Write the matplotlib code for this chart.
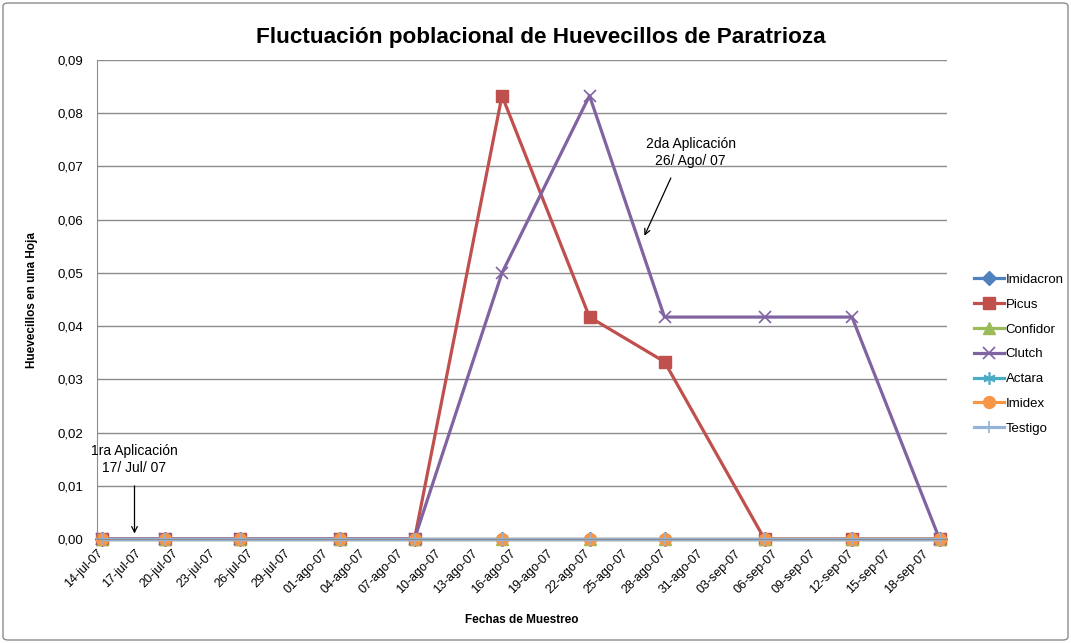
import matplotlib as mpl
mpl.use('Agg')
import matplotlib.pyplot as plt
import matplotlib.dates as mdates
import matplotlib.ticker as mticker
import matplotlib.patches as mpatches
import datetime as dt

plt.rcParams['font.family'] = ['Liberation Sans', 'DejaVu Sans']

""" datos del muestreo """
fechas = ['14-07-2007', '19-07-2007', '25-07-2007', '02-08-2007', '08-08-2007',
          '15-08-2007', '22-08-2007', '28-08-2007', '05-09-2007', '12-09-2007',
          '19-09-2007']
imidacron = [0, 0, 0, 0, 0, 0, 0, 0, 0, 0, 0]
picus = [0, 0, 0, 0, 0, 0.0833, 0.0417, 0.0333, 0, 0, 0]
confidor = [0, 0, 0, 0, 0, 0, 0, 0, 0, 0, 0]
clutch = [0, 0, 0, 0, 0, 0.05, 0.0833, 0.0417, 0.0417, 0.0417, 0]
actara = [0, 0, 0, 0, 0, 0, 0, 0, 0, 0, 0]
imidex = [0, 0, 0, 0, 0, 0, 0, 0, 0, 0, 0]
testigo = [0, 0, 0, 0, 0, 0, 0, 0, 0, 0, 0]

meses = {7: 'jul', 8: 'ago', 9: 'sep'}
inicio = dt.date(2007, 7, 14)

series = [('Imidacron', imidacron, '#4F81BD', 'D', 7),
          ('Picus', picus, '#C0504D', 's', 8),
          ('Confidor', confidor, '#9BBB59', '^', 8),
          ('Clutch', clutch, '#8064A2', 'x', 8),
          ('Actara', actara, '#4BACC6', (6, 2, 0), 9),
          ('Imidex', imidex, '#F79646', 'o', 8.5),
          ('Testigo', testigo, '#95B3D7', '+', 9)]

dias = [dt.datetime.strptime(f, '%d-%m-%Y') for f in fechas]
x = mdates.date2num(dias) + 0.4

fig = plt.figure(figsize=(10.71, 6.43), dpi=100)
ax = fig.add_axes([97/1071, 1-539/643, 850/1071, 479/643])

for nombre, vals, col, mk, ms in series:
    mew = 1.2 if mk in ('x', '+') or isinstance(mk, tuple) else 1
    ax.plot(x, vals, color=col, lw=2.3, marker=mk, markersize=ms,
            markeredgewidth=mew, label=nombre, clip_on=False)

ax.set_ylim(0, 0.09)
ax.yaxis.set_major_locator(mticker.MultipleLocator(0.01))
ax.yaxis.set_major_formatter(mticker.FuncFormatter(lambda v, p: ('%.2f' % v).replace('.', ',')))
ax.grid(axis='y', color='#8c8c8c', lw=1)
ax.set_axisbelow(True)

ticks = [mdates.date2num(inicio + dt.timedelta(days=3*k)) for k in range(23)]
ax.set_xticks(ticks)
ax.xaxis.set_major_formatter(mticker.FuncFormatter(
    lambda v, p: '%02d-%s-%s' % (mdates.num2date(v).day, meses[mdates.num2date(v).month],
                                 mdates.num2date(v).strftime('%y'))))
ax.set_xlim(mdates.date2num(inicio), mdates.date2num(inicio + dt.timedelta(days=68)))
for lab in ax.get_xticklabels():
    lab.set_rotation(45)
    lab.set_ha('right')
    lab.set_rotation_mode('anchor')
ax.tick_params(axis='x', length=0, labelsize=9, pad=6)
ax.tick_params(axis='y', length=0, labelsize=9.5, pad=10)

for s in ['top', 'right']:
    ax.spines[s].set_visible(False)
ax.spines['left'].set_color('#8c8c8c')
ax.spines['bottom'].set_color('#8c8c8c')

ax.set_ylabel('Huevecillos en una Hoja', fontsize=8.5, fontweight='bold', labelpad=14)
ax.set_xlabel('Fechas de Muestreo', fontsize=8.5, fontweight='bold', labelpad=13)

fig.text(541/1071, 1-37/643, 'Fluctuación poblacional de Huevecillos de Paratrioza',
         ha='center', va='center', fontsize=16.2, fontweight='bold')

# anotaciones de aplicaciones
ax.annotate('', xy=(mdates.date2num(dt.date(2007, 7, 17)), 0.0005),
            xytext=(mdates.date2num(dt.date(2007, 7, 17)), 0.0105),
            arrowprops=dict(arrowstyle='->', color='black', lw=0.9))
ax.text(mdates.date2num(dt.date(2007, 7, 17)), 0.0150, '1ra Aplicación\n17/ Jul/ 07',
        ha='center', va='center', fontsize=10, linespacing=1.25)
ax.annotate('', xy=(mdates.date2num(dt.date(2007, 8, 27)) - 0.3, 0.0565),
            xytext=(mdates.date2num(dt.date(2007, 8, 29)), 0.0683),
            arrowprops=dict(arrowstyle='->', color='black', lw=0.9))
ax.text(mdates.date2num(dt.date(2007, 8, 30)) + 0.5, 0.0726, '2da Aplicación\n26/ Ago/ 07',
        ha='center', va='center', fontsize=10, linespacing=1.25)

ax.legend(loc='upper left', bbox_to_anchor=(962/1071, 1-262/643),
          bbox_transform=fig.transFigure, frameon=False, fontsize=9.5,
          handlelength=2.3, handletextpad=0.1, labelspacing=0.95)

fig.patches.append(mpatches.FancyBboxPatch((3/1071, 3/643), 1065/1071, 637/643,
                                           boxstyle='round,pad=0,rounding_size=0.005',
                                           transform=fig.transFigure, fill=False,
                                           edgecolor='#8c8c8c', lw=1))

plt.savefig('out.png', dpi=100)
